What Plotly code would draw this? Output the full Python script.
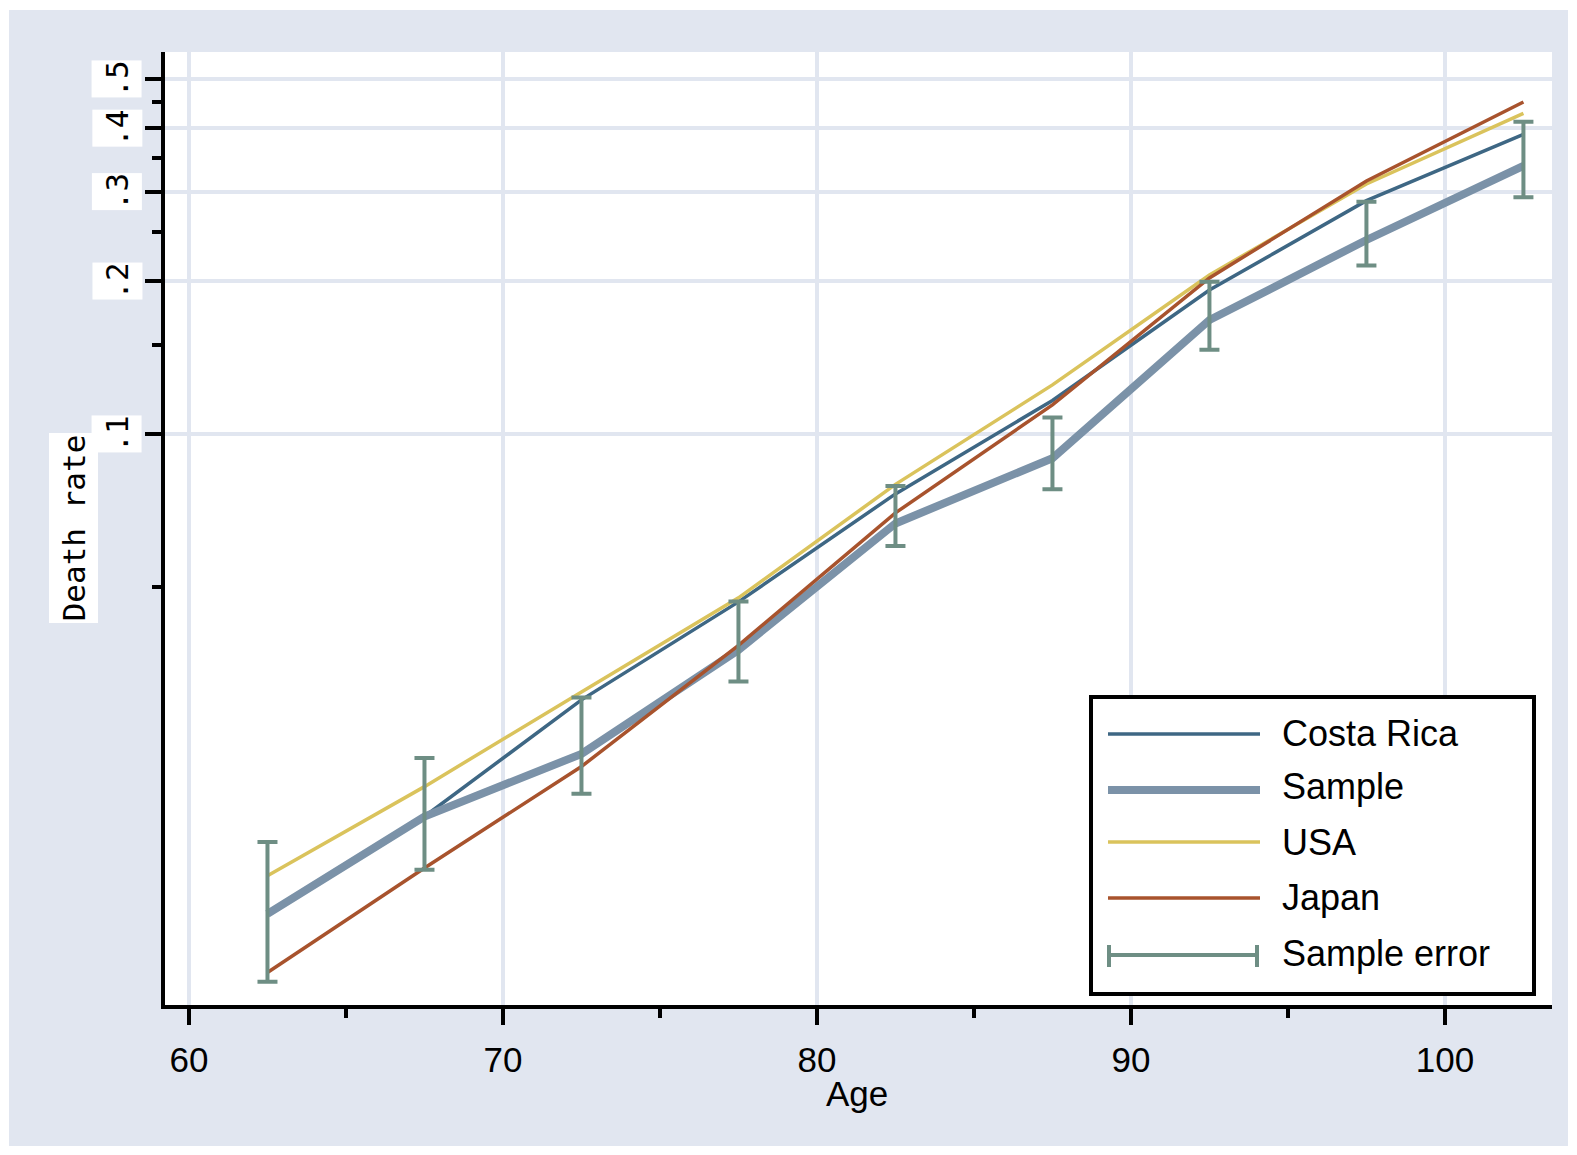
import math
import plotly.graph_objects as go

# ---------------- data ----------------
ages = [62.5, 67.5, 72.5, 77.5, 82.5, 87.5, 92.5, 97.5, 102.5]
costa_rica = [0.01135, 0.01765, 0.02995, 0.0467, 0.0762, 0.1164, 0.192, 0.2879, 0.389]
sample = [0.01135, 0.01765, 0.02344, 0.03756, 0.06664, 0.08958, 0.1676, 0.2409, 0.337]
usa = [0.01349, 0.02021, 0.03105, 0.04756, 0.07955, 0.1249, 0.2056, 0.3106, 0.4279]
japan = [0.008703, 0.01398, 0.02214, 0.03835, 0.06991, 0.1141, 0.2028, 0.3148, 0.4503]
sample_hi = [0.01573, 0.02302, 0.03027, 0.04677, 0.0790, 0.1077, 0.1994, 0.2866, 0.4119]
sample_lo = [0.008343, 0.01386, 0.01956, 0.03254, 0.06018, 0.07785, 0.1464, 0.2146, 0.2924]

x_ticks = [60, 70, 80, 90, 100]
x_minor = [65, 75, 85, 95]
y_ticks = [0.1, 0.2, 0.3, 0.4, 0.5]
y_tick_labels = [".1", ".2", ".3", ".4", ".5"]
y_minor = [0.05, 0.15, 0.25, 0.35, 0.45]

# ---------------- styles ----------------
C_CR = "#3E6784"
C_SAMPLE = "#7B92A8"
C_USA = "#DAC35C"
C_JAPAN = "#A8532D"
C_ERR = "#6E8E84"
BG = "#E1E6F0"
GRID = "#E1E6F0"

W, H = 1577, 1155
L, R, T, B = 165, 25, 52, 150
PW, PH = W - L - R, H - T - B


def px(x):
    return (x - L) / PW


def py(y):
    return (H - B - y) / PH


fig = go.Figure()
fig.add_trace(go.Scatter(x=ages, y=costa_rica, mode="lines", name="Costa Rica",
                         line=dict(color=C_CR, width=3.5)))
fig.add_trace(go.Scatter(x=ages, y=sample, mode="lines", name="Sample",
                         line=dict(color=C_SAMPLE, width=8)))
fig.add_trace(go.Scatter(x=ages, y=usa, mode="lines", name="USA",
                         line=dict(color=C_USA, width=3.5)))
fig.add_trace(go.Scatter(x=ages, y=japan, mode="lines", name="Japan",
                         line=dict(color=C_JAPAN, width=3.5)))
err_plus = [h - s for h, s in zip(sample_hi, sample)]
err_minus = [s - l for s, l in zip(sample, sample_lo)]
fig.add_trace(go.Scatter(x=ages, y=sample, mode="markers", name="Sample error",
                         marker=dict(size=1, color="rgba(0,0,0,0)"),
                         error_y=dict(type="data", array=err_plus, arrayminus=err_minus,
                                      symmetric=False, color=C_ERR, thickness=4, width=10)))

shapes = [
    dict(type="rect", xref="paper", yref="paper", x0=px(9), x1=px(1568), y0=py(1146), y1=py(10),
         fillcolor=BG, line=dict(width=0), layer="below"),
    dict(type="rect", xref="paper", yref="paper", x0=0, x1=1, y0=0, y1=1,
         fillcolor="white", line=dict(width=0), layer="below"),
    # legend box
    dict(type="rect", xref="paper", yref="paper", x0=px(1091), x1=px(1534), y0=py(994), y1=py(697),
         fillcolor="white", line=dict(color="black", width=4), layer="above"),
]

legend_items = [
    ("Costa Rica", C_CR, 3.5, 734, 733),
    ("Sample", C_SAMPLE, 8, 790, 786),
    ("USA", C_USA, 3.5, 842, 842),
    ("Japan", C_JAPAN, 3.5, 898, 897),
]
annotations = []
for name, col, wd, ly, ty in legend_items:
    shapes.append(dict(type="line", xref="paper", yref="paper", x0=px(1108), x1=px(1260),
                       y0=py(ly), y1=py(ly), line=dict(color=col, width=wd), layer="above"))
    annotations.append(dict(text=name, xref="paper", yref="paper", x=px(1280), y=py(ty),
                            xanchor="left", yanchor="middle", showarrow=False,
                            font=dict(family="Liberation Sans, Arial", size=36, color="black")))
# error legend symbol
shapes.append(dict(type="line", xref="paper", yref="paper", x0=px(1109), x1=px(1257),
                   y0=py(955), y1=py(955), line=dict(color=C_ERR, width=4), layer="above"))
for xx in (1109, 1257):
    shapes.append(dict(type="line", xref="paper", yref="paper", x0=px(xx), x1=px(xx),
                       y0=py(945), y1=py(967), line=dict(color=C_ERR, width=4), layer="above"))
annotations.append(dict(text="Sample error", xref="paper", yref="paper", x=px(1280), y=py(953),
                        xanchor="left", yanchor="middle", showarrow=False,
                        font=dict(family="Liberation Sans, Arial", size=36, color="black")))

# y tick labels (rotated, boxed)
for v, lab in zip(y_ticks, y_tick_labels):
    annotations.append(dict(text=lab, xref="paper", yref="y", x=px(117), y=math.log10(v),
                            xanchor="center", yanchor="middle", showarrow=False, textangle=-90,
                            bgcolor="white", borderpad=0, width=36, height=49,
                            font=dict(family="DejaVu Sans Mono", size=31, color="black")))
# y title
annotations.append(dict(text="Death rate", xref="paper", yref="paper", x=px(73), y=py(528.5),
                        xanchor="center", yanchor="middle", showarrow=False, textangle=-90,
                        bgcolor="white", borderpad=0, width=189, height=48,
                        font=dict(family="DejaVu Sans Mono", size=31, color="black")))
# x title
annotations.append(dict(text="Age", xref="paper", yref="paper", x=px(857), y=py(1093),
                        xanchor="center", yanchor="middle", showarrow=False,
                        font=dict(family="Liberation Sans, Arial", size=35, color="black")))

fig.update_layout(
    width=W, height=H, autosize=False,
    margin=dict(l=L, r=R, t=T, b=B, pad=0),
    paper_bgcolor="white", plot_bgcolor="white",
    showlegend=False,
    shapes=shapes, annotations=annotations,
    xaxis=dict(range=[59.236, 103.41], tickmode="array", tickvals=x_ticks,
               ticks="outside", ticklen=16, tickwidth=3.5, tickcolor="black",
               showline=True, linecolor="black", linewidth=4, mirror=False,
               showgrid=True, gridcolor=GRID, gridwidth=4, zeroline=False,
               tickfont=dict(family="Liberation Sans, Arial", size=35, color="black"),
               ticklabelstandoff=5,
               minor=dict(tickmode="array", tickvals=x_minor, ticks="outside", ticklen=9,
                          tickwidth=3.5, tickcolor="black", showgrid=False)),
    yaxis=dict(type="log", range=[-2.1244, -0.248], tickmode="array", tickvals=y_ticks,
               showticklabels=False,
               ticks="outside", ticklen=16, tickwidth=3.5, tickcolor="black",
               showline=True, linecolor="black", linewidth=4, mirror=False,
               showgrid=True, gridcolor=GRID, gridwidth=4, zeroline=False,
               minor=dict(tickmode="array", tickvals=y_minor, ticks="outside", ticklen=9,
                          tickwidth=3.5, tickcolor="black", showgrid=False)),
)

fig.write_html("out.html")
